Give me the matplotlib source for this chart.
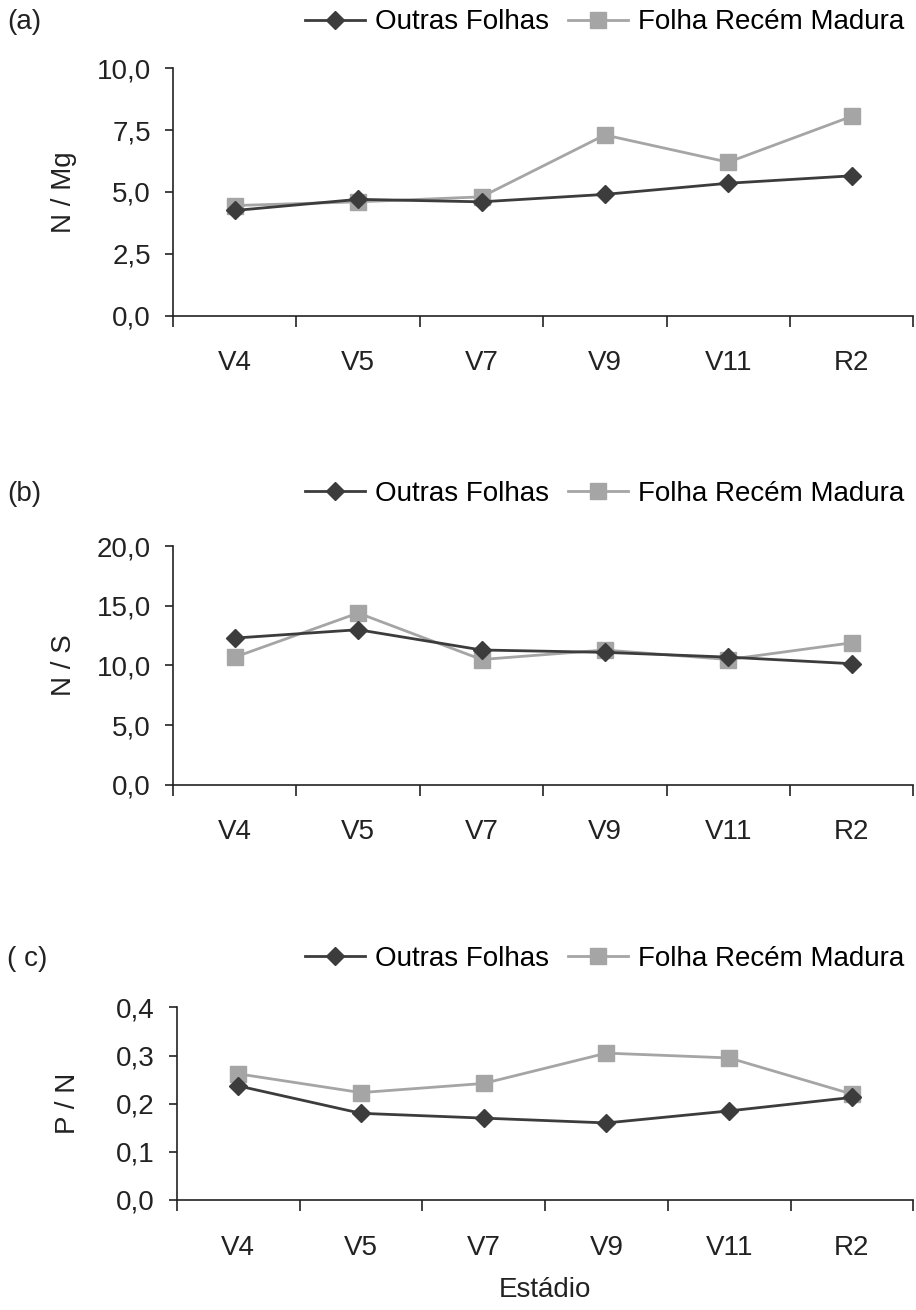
import matplotlib
matplotlib.use("Agg")
import matplotlib.pyplot as plt
from matplotlib.ticker import FixedLocator, FuncFormatter

plt.rcParams['font.family'] = ['Liberation Sans', 'DejaVu Sans']

estadios = ['V4', 'V5', 'V7', 'V9', 'V11', 'R2']

# (a) N / Mg
a_outras = [4.25, 4.70, 4.60, 4.90, 5.35, 5.65]
a_frm = [4.45, 4.60, 4.80, 7.30, 6.20, 8.05]
# (b) N / S
b_outras = [12.3, 13.0, 11.3, 11.1, 10.7, 10.15]
b_frm = [10.7, 14.4, 10.5, 11.3, 10.5, 11.9]
# (c) P / N
c_outras = [0.237, 0.180, 0.170, 0.160, 0.185, 0.213]
c_frm = [0.262, 0.223, 0.242, 0.305, 0.295, 0.220]

dark = '#3c3c3c'
light = '#a5a5a5'
txt = '#222222'
fs = 20

fig = plt.figure(figsize=(9.16, 13.1), dpi=100)

panels = [
    ('(a)', 'N / Mg', a_outras, a_frm, [0, 2.5, 5, 7.5, 10], [0.189, 0.759, 0.808, 0.189], 0.983),
    ('(b)', 'N / S', b_outras, b_frm, [0, 5, 10, 15, 20], [0.189, 0.401, 0.808, 0.182], 0.623),
    ('( c)', 'P / N', c_outras, c_frm, [0, 0.1, 0.2, 0.3, 0.4], [0.193, 0.084, 0.804, 0.147], 0.268),
]

x = list(range(len(estadios)))
for lab, ylab, outras, frm, yt, pos, ly in panels:
    ax = fig.add_axes(pos)
    l1, = ax.plot(x, outras, color=dark, lw=2, marker='D', markersize=9.5,
                  label='Outras Folhas', zorder=3)
    l2, = ax.plot(x, frm, color=light, lw=2, marker='s', markersize=11,
                  label='Folha Recém Madura', zorder=2)
    ax.set_xlim(-0.5, 5.5)
    ax.set_ylim(yt[0], yt[-1])
    ax.set_yticks(yt)
    ax.yaxis.set_major_formatter(FuncFormatter(lambda v, p: f'{v:.1f}'.replace('.', ',')))
    ax.xaxis.set_major_locator(FixedLocator([i - 0.5 for i in range(7)]))
    ax.xaxis.set_minor_locator(FixedLocator(x))
    ax.set_xticklabels([], minor=False)
    ax.set_xticklabels(estadios, minor=True)
    ax.tick_params(axis='x', which='major', length=8, width=1.2, direction='out', color=txt)
    ax.tick_params(axis='x', which='minor', length=0, pad=25, labelsize=fs, labelcolor=txt)
    ax.tick_params(axis='y', length=6, width=1.2, pad=10, labelsize=fs, labelcolor=txt, color=txt)
    for s in ['top', 'right']:
        ax.spines[s].set_visible(False)
    for s in ['left', 'bottom']:
        ax.spines[s].set_linewidth(1.2)
        ax.spines[s].set_color(txt)
    ax.set_ylabel(ylab, fontsize=fs, color=txt)
    ax.yaxis.set_label_coords(-0.13, 0.5)
    fig.text(0.008, ly, lab, fontsize=fs, va='center', ha='left', color=txt)
    fig.legend(handles=[l1, l2], loc='center right', bbox_to_anchor=(0.99, ly),
               ncol=2, frameon=False, fontsize=fs, handlelength=2.15,
               handletextpad=0.36, columnspacing=0.68, borderaxespad=0, borderpad=0.1)
    if lab == '( c)':
        ax.set_xlabel('Estádio', fontsize=fs, color=txt, labelpad=12)

fig.savefig('out.png', dpi=100)
